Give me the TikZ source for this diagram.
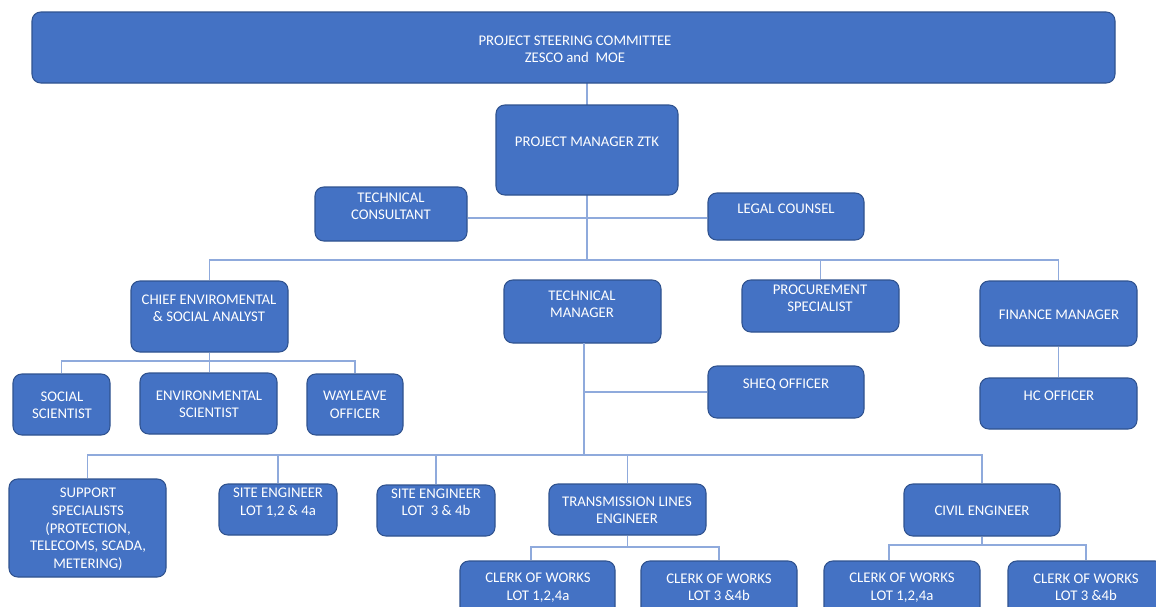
\documentclass[tikz,border=0pt]{standalone}
\usepackage{fontspec}
\setmainfont{Carlito}
\usetikzlibrary{fit}
\definecolor{unitblue}{HTML}{4472C4}
\definecolor{unitedge}{HTML}{2F528F}
\definecolor{linkblue}{HTML}{8FAADC}
\begin{document}
\begin{tikzpicture}[
  x=0.02cm, y=-0.02cm,
  every node/.style={font=\fontsize{8.4}{10.2}\selectfont},
  unit/.style={draw=unitedge, fill=unitblue, rounded corners=5pt, inner sep=0pt, line width=0.6pt},
  txt/.style={text=white, align=center, inner sep=0pt, yshift=-0.7pt},
  link/.style={draw=linkblue, line width=0.7pt}]

\fill[white] (0,0) rectangle (1156,606);
\path[use as bounding box, clip] (0,0) rectangle (1156,606);

% bus levels
\coordinate (b2) at (0,260);
\coordinate (b3) at (0,361);
\coordinate (b4) at (0,455);
\coordinate (b5) at (0,547);
\coordinate (b6) at (0,545);

% connectors first, boxes on top
\coordinate (pmtop) at (587,105);
\coordinate (pmbot) at (587,195);
\draw[link] (587,83) coordinate (psctop) -- (pmtop);
\draw[link] (pmbot) -- (pmbot |- b2);

% top of the tree
\node[unit, fit={(32,12) (1115,83)}]    (psc) {};
\node[unit, fit={(496,105) (678,195)}]  (pm)  {};
\node[unit, fit={(315,187) (467,241)}]  (tc)  {};
\node[unit, fit={(708,193) (864,240)}]  (lc)  {};
\draw[link] (tc.east |- 0,218) -- (lc.west |- 0,218);

\node[txt] at (575,48)  {PROJECT STEERING COMMITTEE\\ZESCO and~ MOE};
\node[txt] at (587,141) {PROJECT MANAGER ZTK};
\node[txt] at (391,205) {TECHNICAL\\CONSULTANT};
\node[txt] at (786,208) {LEGAL COUNSEL};

% second level
\node[unit, fit={(131,281) (288,352)}]  (ces) {};
\node[unit, fit={(504,280) (661,343)}]  (tm)  {};
\node[unit, fit={(742,280) (899,332)}]  (ps)  {};
\node[unit, fit={(980,281) (1137,346)}] (fm)  {};
\node[unit, fit={(980,378) (1137,429)}] (hc)  {};

\draw[link] (ces.north) |- (b2 -| fm.north) -- (fm.north);
\draw[link] (ps.north) -- (ps.north |- b2);
\draw[link] (fm.south) -- (hc.north);

\node[txt] at (209,307) {CHIEF ENVIROMENTAL\\\& SOCIAL ANALYST};
\node[txt] at (582,303) {TECHNICAL\\MANAGER};
\node[txt] at (820,297) {PROCUREMENT\\SPECIALIST};
\node[txt] at (1059,314) {FINANCE MANAGER};
\node[txt] at (1059,395) {HC OFFICER};

% environment and social team
\node[unit, fit={(13,374) (110,435)}]   (ss)  {};
\node[unit, fit={(140,373) (277,434)}]  (es)  {};
\node[unit, fit={(307,374) (403,435)}]  (wo)  {};

\draw[link] (ss.north) |- (b3 -| wo.north) -- (wo.north);
\draw[link] (ces.south) -- (ces.south |- es.north);

\node[txt] at (62,404)  {SOCIAL\\SCIENTIST};
\node[txt] at (209,403) {ENVIRONMENTAL\\SCIENTIST};
\node[txt] at (355,404) {WAYLEAVE\\OFFICER};

% technical team
\node[unit, fit={(708,366) (864,418)}]  (sheq) {};
\draw[link] (584,343) coordinate (tmbot) -- (tmbot |- b4);
\draw[link] (sheq.west) -- (sheq.west -| tmbot);
\node[txt] at (786,383) {SHEQ OFFICER};

\node[unit, fit={(9,479) (166,577)}]    (sup) {};
\node[unit, fit={(219,484) (337,535)}]  (se1) {};
\node[unit, fit={(377,485) (495,536)}]  (se2) {};
\node[unit, fit={(549,484) (706,535)}]  (tle) {};
\node[unit, fit={(904,484) (1060,536)}] (ce)  {};

\draw[link] (sup.north) |- (b4 -| ce.north) -- (ce.north);
\draw[link] (se1.north) -- (se1.north |- b4);
\draw[link] (se2.north) -- (se2.north |- b4);
\draw[link] (tle.north) -- (tle.north |- b4);

\node[txt] at (88,528)  {SUPPORT\\SPECIALISTS\\(PROTECTION,\\TELECOMS, SCADA,\\METERING)};
\node[txt] at (278,501) {SITE ENGINEER\\LOT 1,2 \& 4a};
\node[txt] at (436,501) {SITE ENGINEER\\LOT~ 3 \& 4b};
\node[txt] at (627,509) {TRANSMISSION LINES\\ENGINEER};
\node[txt] at (982,510) {CIVIL ENGINEER};

% clerks of works
\node[unit, fit={(460,561) (615,625)}]   (ck1) {};
\node[unit, fit={(641,561) (797,625)}]   (ck2) {};
\node[unit, fit={(824,561) (980,625)}]   (ck3) {};
\node[unit, fit={(1008,561) (1164,625)}] (ck4) {};

\draw[link] (tle.south) -- (tle.south |- b5);
\draw[link] (ck1.north -| 531,0) |- (b5 -| ck2.north) -- (ck2.north);
\draw[link] (ce.south) -- (ce.south |- b6);
\draw[link] (ck3.north -| 889,0) |- (b6 -| ck4.north) -- (ck4.north);

\node[txt] at (538,586)  {CLERK OF WORKS\\LOT 1,2,4a};
\node[txt] at (719,586)  {CLERK OF WORKS\\LOT 3 \&4b};
\node[txt] at (902,586)  {CLERK OF WORKS\\LOT 1,2,4a};
\node[txt] at (1086,586) {CLERK OF WORKS\\LOT 3 \&4b};
\end{tikzpicture}
\end{document}
